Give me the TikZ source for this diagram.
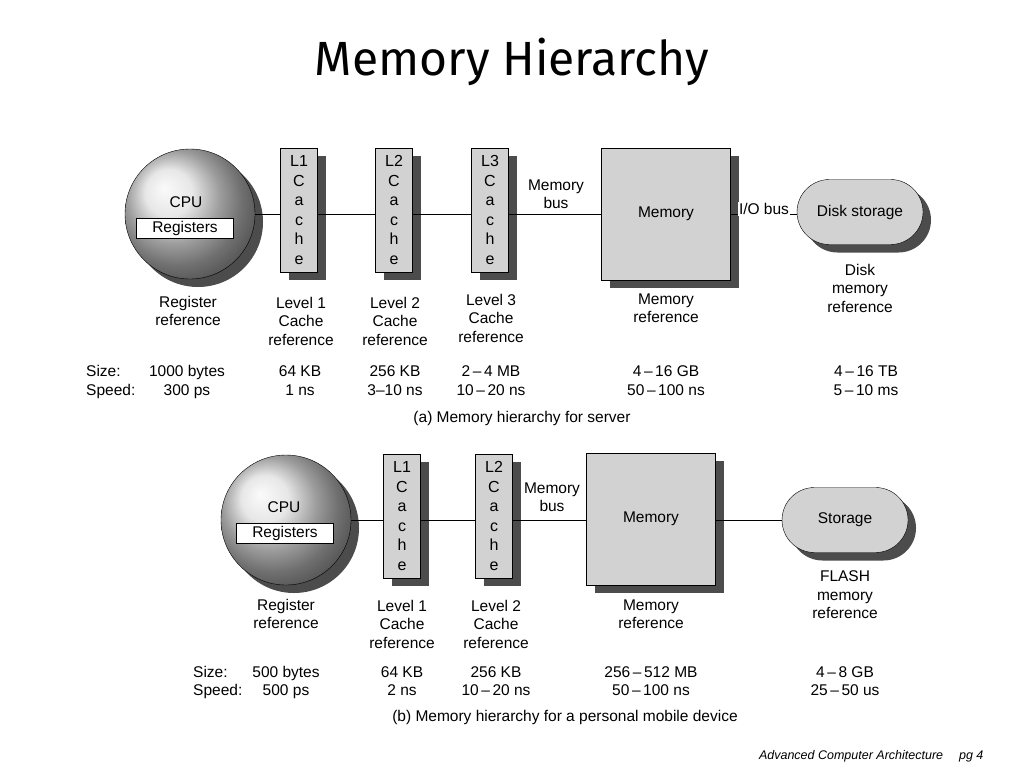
\documentclass[tikz,border=0pt]{standalone}
\usepackage{fontspec}
\setmainfont{Liberation Sans}
\newfontfamily\titlefont{Fira Sans}
\usetikzlibrary{shadows,shapes.misc}
\begin{document}
\begin{tikzpicture}[x=1pt,y=-1pt,
  txt/.style={font=\fontsize{15.5}{18.5}\selectfont, align=center, inner sep=0},
  tbl/.style={font=\fontsize{15.5}{18.5}\selectfont, inner sep=0, text height=11pt, text depth=3pt},
  shd/.style={drop shadow={shadow xshift=8pt, shadow yshift=-8pt, fill=black!70, opacity=1}},
  cpu/.style={circle, draw=black, minimum size=130pt, inner sep=0, shd, shading=ball, ball color=gray!25},
  reg/.style={draw, fill=white, minimum width=97pt, minimum height=20pt, inner sep=0, font=\fontsize{15.5}{18}\selectfont},
  cache/.style={draw, fill=gray!35, minimum width=37pt, minimum height=124pt, inner sep=0, shd, align=center, font=\fontsize{16}{19.5}\selectfont},
  mem/.style={draw, fill=gray!35, minimum width=129pt, minimum height=132pt, inner sep=0, shd, font=\fontsize{15.5}{18}\selectfont},
  disk/.style={rounded rectangle, draw, fill=gray!35, minimum width=126pt, minimum height=65pt, inner sep=0, shd, font=\fontsize{15.5}{18}\selectfont},
  bus/.style={line width=0.9pt}]
\useasboundingbox (0,0) rectangle (1024,768);
\node[font=\titlefont\fontsize{48}{54}\selectfont] (title) at (512,62) {Memory Hierarchy};
% (a)
\node[cpu] (cpua) at (190,214) {};
\node[txt] (cpuat) at (186,202) {CPU};
\node[reg] (rega) at (185,228) {Registers};
\node[cache] (l1a) at (299,210) {L1\\C\\a\\c\\h\\e};
\node[cache] (l2a) at (394,210) {L2\\C\\a\\c\\h\\e};
\node[cache] (l3a) at (490,210) {L3\\C\\a\\c\\h\\e};
\node[mem] (mema) at (666,214) {Memory};
\node[disk] (diska) at (860,212) {Disk storage};
\draw[bus] (cpua.east) -- (l1a.west|-cpua.east) (l1a.east|-cpua.east) -- (l2a.west|-cpua.east)
  (l2a.east|-cpua.east) -- (l3a.west|-cpua.east) (l3a.east|-cpua.east) -- (mema.west|-cpua.east)
  (mema.east|-cpua.east) -- (diska.west|-cpua.east);
\node[txt] (mba) at (556,194) {Memory\\bus};
\node[txt, fill=white, inner sep=1pt] (ioa) at (764,209) {I/O bus};
\node[txt] (ra) at (188,311) {Register\\reference};
\node[txt] (c1a) at (301,321) {Level 1\\Cache\\reference};
\node[txt] (c2a) at (395,321) {Level 2\\Cache\\reference};
\node[txt] (c3a) at (491,318) {Level 3\\Cache\\reference};
\node[txt] (mra) at (666,308) {Memory\\reference};
\node[txt] (dra) at (860,288) {Disk\\memory\\reference};
\node[tbl, anchor=west] (sa) at (86,372) {Size:};
\node[tbl, anchor=west] (spa) at (86,391) {Speed:};
\foreach \x/\s/\v [count=\i] in {187/1000 bytes/300 ps, 300/64 KB/1 ns, 395/256 KB/3--10 ns, 491/2\,--\,4 MB/10\,--\,20 ns, 666/4\,--\,16 GB/50\,--\,100 ns, 866/4\,--\,16 TB/5\,--\,10 ms}{
  \node[tbl] (sza\i) at (\x,372) {\s};
  \node[tbl] (spda\i) at (\x,391) {\v};}
\node[txt] (capa) at (522,418) {(a) Memory hierarchy for server};
% (b)
\node[cpu] (cpub) at (286,520) {};
\node[txt] (cpubt) at (284,507) {CPU};
\node[reg] (regb) at (285,533) {Registers};
\node[cache] (l1b) at (402,516) {L1\\C\\a\\c\\h\\e};
\node[cache] (l2b) at (494,516) {L2\\C\\a\\c\\h\\e};
\node[mem] (memb) at (651,519) {Memory};
\node[disk] (diskb) at (845,520) {Storage};
\draw[bus] (cpub.east) -- (l1b.west|-cpub.east) (l1b.east|-cpub.east) -- (l2b.west|-cpub.east)
  (l2b.east|-cpub.east) -- (memb.west|-cpub.east) (memb.east|-cpub.east) -- (diskb.west|-cpub.east);
\node[txt] (mbb) at (552,497) {Memory\\bus};
\node[txt] (rb) at (286,614) {Register\\reference};
\node[txt] (c1b) at (402,624) {Level 1\\Cache\\reference};
\node[txt] (c2b) at (496,624) {Level 2\\Cache\\reference};
\node[txt] (mrb) at (651,614) {Memory\\reference};
\node[txt] (drb) at (845,595) {FLASH\\memory\\reference};
\node[tbl, anchor=west] (sb) at (193,673) {Size:};
\node[tbl, anchor=west] (spb) at (193,691) {Speed:};
\foreach \x/\s/\v [count=\i] in {286/500 bytes/500 ps, 402/64 KB/2 ns, 496/256 KB/10\,--\,20 ns, 651/256\,--\,512 MB/50\,--\,100 ns, 845/4\,--\,8 GB/25\,--\,50 us}{
  \node[tbl] (szb\i) at (\x,673) {\s};
  \node[tbl] (spdb\i) at (\x,691) {\v};}
\node[txt] (capb) at (565,717) {(b) Memory hierarchy for a personal mobile device};
\node[font=\itshape\fontsize{12.5}{14}\selectfont, anchor=east] (foot) at (987,756) {Advanced Computer Architecture\hspace{16pt}pg 4};
\end{tikzpicture}
\end{document}
